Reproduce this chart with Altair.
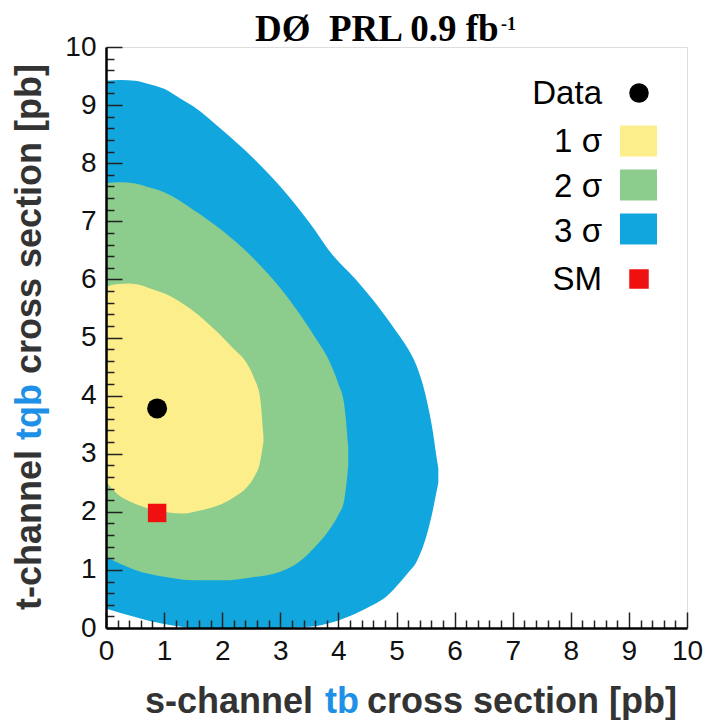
import altair as alt
import pandas as pd

# ---- data ----
# 3 sigma contour (s-channel value, lower / upper t-channel boundary)
s3_x = [0, 0.25, 0.5, 0.75, 1.0, 1.3, 1.5, 2.0, 2.5, 3.0, 3.5, 3.9, 4.3, 4.6, 4.8, 5.0, 5.2, 5.35, 5.52, 5.63, 5.68, 5.72]
s3_hi = [9.42, 9.43, 9.42, 9.36, 9.28, 9.1, 8.98, 8.57, 8.12, 7.6, 6.98, 6.42, 6.0, 5.64, 5.38, 5.1, 4.8, 4.5, 3.92, 3.35, 3.0, 2.75]
s3_lo = [0.33, 0.26, 0.19, 0.12, 0.07, 0.02, 0.0, 0.0, 0.0, 0.0, 0.02, 0.1, 0.25, 0.4, 0.52, 0.72, 0.95, 1.15, 1.6, 2.05, 2.3, 2.5]

# 2 sigma contour
s2_x = [0, 0.25, 0.5, 0.75, 1.0, 1.5, 2.0, 2.5, 3.0, 3.3, 3.6, 3.85, 4.0, 4.1, 4.17]
s2_hi = [7.66, 7.67, 7.65, 7.58, 7.5, 7.2, 6.84, 6.4, 5.85, 5.45, 5.0, 4.58, 4.2, 3.85, 3.1]
s2_lo = [1.23, 1.1, 1.0, 0.93, 0.88, 0.82, 0.82, 0.87, 0.97, 1.12, 1.4, 1.7, 1.95, 2.2, 2.8]

# 1 sigma contour
s1_x = [0, 0.2, 0.4, 0.6, 0.8, 1.0, 1.3, 1.6, 1.96, 2.2, 2.42, 2.55, 2.65, 2.71]
s1_hi = [5.87, 5.92, 5.93, 5.9, 5.83, 5.76, 5.6, 5.38, 5.05, 4.8, 4.56, 4.3, 3.98, 3.3]
s1_lo = [2.52, 2.3, 2.18, 2.1, 2.04, 2.0, 1.97, 2.02, 2.12, 2.25, 2.42, 2.6, 2.85, 3.2]

data_s = [0.88]
data_t = [3.78]
sm_s = [0.88]
sm_t = [1.98]

# tick positions: labelled every 1, minor ticks every 0.2
tick_values = [0, 0.2, 0.4, 0.6, 0.8, 1, 1.2, 1.4, 1.6, 1.8, 2, 2.2, 2.4, 2.6, 2.8, 3, 3.2, 3.4, 3.6, 3.8,
               4, 4.2, 4.4, 4.6, 4.8, 5, 5.2, 5.4, 5.6, 5.8, 6, 6.2, 6.4, 6.6, 6.8, 7, 7.2, 7.4, 7.6, 7.8,
               8, 8.2, 8.4, 8.6, 8.8, 9, 9.2, 9.4, 9.6, 9.8, 10]

legend_labels = ["Data", "1 σ", "2 σ", "3 σ", "SM"]

# ---- styling ----
C1 = "#FDEE8C"
C2 = "#8CCC8C"
C3 = "#12A6DE"
RED = "#F01010"
BLUE_TXT = "#1E90E6"
W = H = 581
FONT = "Liberation Sans"

xscale = alt.Scale(domain=[0, 10], nice=False, zero=False)
yscale = alt.Scale(domain=[0, 10], nice=False, zero=False)

IS_MAJOR = "abs(datum.value - round(datum.value)) < 0.001"
label_expr = "abs(datum.value - round(datum.value)) < 0.001 ? format(datum.value, 'd') : ''"

# Inward ticks drawn as short dashes of the grid lines.
# x grid lines run from the top of the plot to the bottom, so the dash is shifted
# (common dash offset, periods chosen so the dash ends exactly at the bottom edge).
X_OFF = 2000
x_dash = {"condition": {"test": IS_MAJOR, "value": [16, X_OFF + H - 16 - 16 + 0]},
          "value": [8, X_OFF + H - 8 - 8]}
# y grid lines start at the left edge, so plain leading dashes work.
y_dash = {"condition": {"test": IS_MAJOR, "value": [16, 3000]}, "value": [8, 3000]}


def make_axis(pad, dash, off):
    return alt.Axis(values=tick_values, labelExpr=label_expr, title=None, ticks=False,
                    grid=True, gridDash=dash, gridDashOffset=off, gridColor="#222",
                    gridWidth=1.5, gridOpacity=1,
                    labelFontSize=28, labelFont=FONT, labelColor="#111", labelPadding=pad,
                    domainColor="#000", domainWidth=2.5, labelFlush=False, labelOverlap=False,
                    zindex=2)


xaxis = make_axis(9, x_dash, X_OFF)
yaxis = make_axis(10, y_dash, 0)


def band(xs, lo, hi, color):
    df = pd.DataFrame({"s": xs, "lo": lo, "hi": hi})
    return alt.Chart(df).mark_area(color=color, interpolate="monotone", clip=True).encode(
        x=alt.X("s:Q", scale=xscale, axis=xaxis),
        y=alt.Y("lo:Q", scale=yscale, axis=yaxis),
        y2="hi:Q",
    )


layers = [band(s3_x, s3_lo, s3_hi, C3), band(s2_x, s2_lo, s2_hi, C2), band(s1_x, s1_lo, s1_hi, C1)]

# data and SM points
layers += [
    alt.Chart(pd.DataFrame({"s": data_s, "t": data_t})).mark_point(
        shape="circle", filled=True, color="black", size=400, opacity=1).encode(
        x=alt.X("s:Q", scale=xscale, axis=xaxis), y=alt.Y("t:Q", scale=yscale, axis=yaxis)),
    alt.Chart(pd.DataFrame({"s": sm_s, "t": sm_t})).mark_point(
        shape="square", filled=True, color=RED, size=340, opacity=1).encode(
        x=alt.X("s:Q", scale=xscale, axis=xaxis), y=alt.Y("t:Q", scale=yscale, axis=yaxis)),
]

one = pd.DataFrame({"a": [0]})


def txt(text, x, y, size, color="black", font=FONT, weight="normal", angle=0, align="left"):
    return alt.Chart(one).mark_text(text=text, font=font, fontSize=size, fontWeight=weight,
                                    color=color, align=align, baseline="alphabetic",
                                    angle=angle).encode(x=alt.value(x), y=alt.value(y))


# legend
leg_base = [57, 105, 150, 195, 243]
for lab, yb in zip(legend_labels, leg_base):
    layers.append(txt(lab, 496, yb, 33, align="right"))
layers.append(alt.Chart(one).mark_point(shape="circle", filled=True, color="black", size=380,
                                        opacity=1).encode(x=alt.value(533), y=alt.value(46)))
for col, yc in zip([C1, C2, C3], [94, 138, 182]):
    layers.append(alt.Chart(one).mark_rect(color=col).encode(
        x=alt.value(514), x2=alt.value(551), y=alt.value(yc - 15.5), y2=alt.value(yc + 15.5)))
layers.append(alt.Chart(one).mark_point(shape="square", filled=True, color=RED, size=380,
                                        opacity=1).encode(x=alt.value(533), y=alt.value(232)))

# axis titles (multi-coloured)
layers += [
    txt("s-channel", 39, 666, 36, color="#333", weight="bold"),
    txt("tb", 219, 666, 36, color=BLUE_TXT, weight="bold"),
    txt("cross section [pb]", 261, 666, 36, color="#333", weight="bold"),
    txt("t-channel", -65, 563, 36, color="#333", weight="bold", angle=270),
    txt("tqb", -65, 393, 36, color=BLUE_TXT, weight="bold", angle=270),
    txt("cross section [pb]", -65, 327, 36, color="#333", weight="bold", angle=270),
]

# title
layers += [
    txt("DØ\u00a0 PRL 0.9 fb", 149, -6, 37, font="Liberation Serif", weight="bold"),
    txt("-1", 395, -17, 18, font="Liberation Serif", weight="bold"),
]

chart = alt.layer(*layers).properties(
    width=W, height=H,
    autosize="none",
    padding={"left": 106, "top": 47, "right": 18, "bottom": 92},
).configure_view(stroke="#555", strokeWidth=1.5).configure(background="white")

chart.save("out.html", embed_options={"renderer": "svg", "actions": False})
